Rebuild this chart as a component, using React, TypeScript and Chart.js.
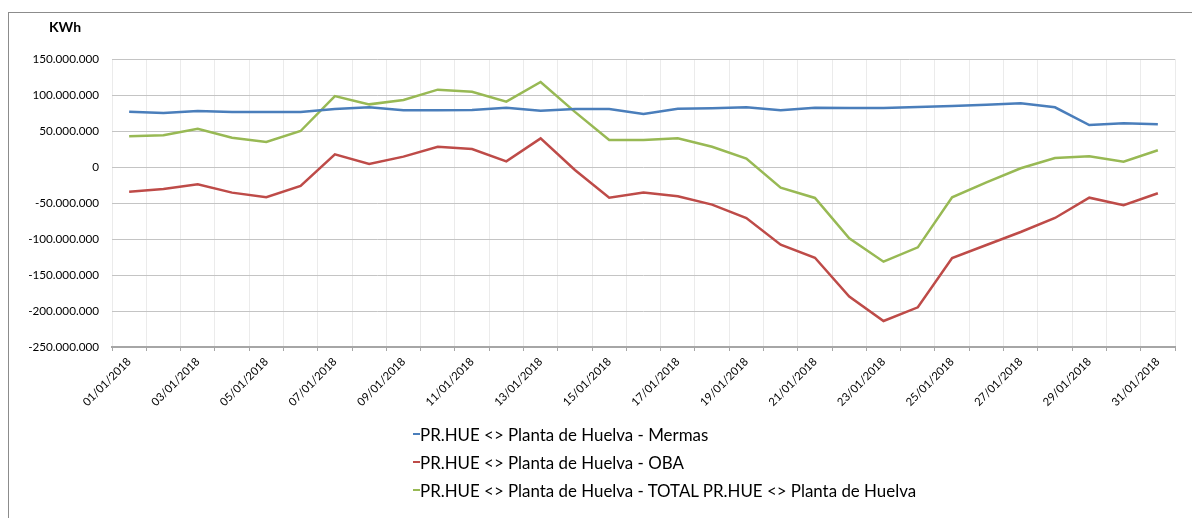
import React, { useEffect, useRef } from "react";
import { Chart, registerables } from "chart.js";

Chart.register(...registerables);

const categories = [
  "01/01/2018", "02/01/2018", "03/01/2018", "04/01/2018", "05/01/2018", "06/01/2018", "07/01/2018", "08/01/2018",
  "09/01/2018", "10/01/2018", "11/01/2018", "12/01/2018", "13/01/2018", "14/01/2018", "15/01/2018", "16/01/2018",
  "17/01/2018", "18/01/2018", "19/01/2018", "20/01/2018", "21/01/2018", "22/01/2018", "23/01/2018", "24/01/2018",
  "25/01/2018", "26/01/2018", "27/01/2018", "28/01/2018", "29/01/2018", "30/01/2018", "31/01/2018",
];

const mermas = [
  76800000, 75000000, 77800000, 76400000, 76400000, 76400000, 80500000, 82900000, 78700000, 78700000,
  79200000, 82400000, 78200000, 80500000, 80500000, 73600000, 81000000, 81500000, 82900000, 78700000,
  82400000, 81900000, 81900000, 83300000, 84700000, 86600000, 88400000, 82900000, 58300000, 60600000, 59300000,
];

const oba = [
  -34300000, -30600000, -24000000, -35600000, -42100000, -26400000, 17600000, 4200000, 14400000, 28200000,
  25000000, 7900000, 39800000, -4200000, -42600000, -35600000, -40700000, -52300000, -70800000, -107900000,
  -126000000, -180000000, -213900000, -194900000, -126400000, -108300000, -90300000, -70800000, -42600000,
  -53200000, -36500000,
];

const total = [
  42600000, 44000000, 53200000, 40700000, 34700000, 50000000, 98600000, 87000000, 93000000, 107400000,
  104600000, 90700000, 118000000, 76500000, 37500000, 37500000, 39800000, 28200000, 11600000, -28700000,
  -43000000, -99000000, -131500000, -111600000, -42100000, -21300000, -1800000, 12500000, 14800000,
  7400000, 23200000,
];

const seriesNames = [
  "PR.HUE <> Planta de Huelva - Mermas",
  "PR.HUE <> Planta de Huelva - OBA",
  "PR.HUE <> Planta de Huelva - TOTAL PR.HUE <> Planta de Huelva",
];
const seriesColors = ["#4a7ebb", "#be4b48", "#98b954"];

const yMin = -250000000;
const yMax = 150000000;
const yStep = 50000000;
const unitLabel = "KWh";

function fmt(v: number): string {
  if (v === 0) return "0";
  const neg = v < 0;
  const s = Math.round(Math.abs(v)).toString().replace(/\B(?=(\d{3})+(?!\d))/g, ".");
  return (neg ? "-" : "") + s;
}

const FONT = "Lato, 'Open Sans', sans-serif";

export default function App() {
  const ref = useRef<HTMLCanvasElement | null>(null);

  useEffect(() => {
    if (!ref.current) return;
    const unitPlugin = {
      id: "unitLabel",
      afterDraw(chart: any) {
        const ctx = chart.ctx;
        ctx.save();
        ctx.font = `bold 14px ${FONT}`;
        ctx.fillStyle = "#000";
        ctx.textBaseline = "middle";
        ctx.textAlign = "left";
        ctx.fillText(unitLabel, 49, 27);
        ctx.restore();
      },
    };
    const chart = new Chart(ref.current, {
      type: "line",
      data: {
        labels: categories,
        datasets: [mermas, oba, total].map((d, i) => ({
          label: seriesNames[i],
          data: d,
          borderColor: seriesColors[i],
          backgroundColor: seriesColors[i],
          borderWidth: 2.5,
          pointRadius: 0,
          tension: 0,
          fill: false,
        })),
      },
      options: {
        animation: false,
        responsive: false,
        maintainAspectRatio: false,
        layout: { padding: { top: 59, left: 0, right: 17, bottom: 0 } },
        plugins: { legend: { display: false }, tooltip: { enabled: false }, title: { display: false } },
        scales: {
          x: {
            offset: true,
            grid: { offset: true, color: "#ebebeb", lineWidth: 1, tickColor: "#a6a6a6", tickLength: 4, drawTicks: true },
            border: { color: "#a6a6a6", width: 2 },
            ticks: {
              autoSkip: false,
              minRotation: 45,
              maxRotation: 45,
              padding: 4,
              color: "#000",
              font: { family: FONT, size: 11.3 },
              callback: (_v: any, i: number) => (i % 2 === 0 ? categories[i] : ""),
            },
            afterFit: (s: any) => {
              s.height = 171;
            },
          },
          y: {
            min: yMin,
            max: yMax,
            grid: { color: "#c4c4c4", lineWidth: 1, drawTicks: false },
            border: { display: false },
            ticks: {
              stepSize: yStep,
              padding: 13,
              color: "#000",
              font: { family: FONT, size: 11.7 },
              callback: (v: any) => fmt(Number(v)),
            },
            afterFit: (s: any) => {
              s.width = 112;
            },
          },
        },
      },
      plugins: [unitPlugin],
    });
    return () => chart.destroy();
  }, []);

  return (
    <div style={{ position: "absolute", left: 0, top: 0, width: 1192, height: 518, overflow: "hidden", background: "#fff" }}>
      <div style={{ position: "absolute", left: 8, top: 12, width: 1300, height: 700, border: "1px solid #8c8c8c" }} />
      <canvas ref={ref} width={1192} height={518} style={{ position: "absolute", left: 0, top: 0 }} />
      <div style={{ position: "absolute", left: 413, top: 420, fontFamily: FONT, fontSize: 16.9, color: "#000" }}>
        {seriesNames.map((n, i) => (
          <div key={n} style={{ height: 28, display: "flex", alignItems: "center", whiteSpace: "nowrap" }}>
            <span style={{ display: "inline-block", width: 7, height: 2.5, background: seriesColors[i] }} />
            <span>{n}</span>
          </div>
        ))}
      </div>
    </div>
  );
}
